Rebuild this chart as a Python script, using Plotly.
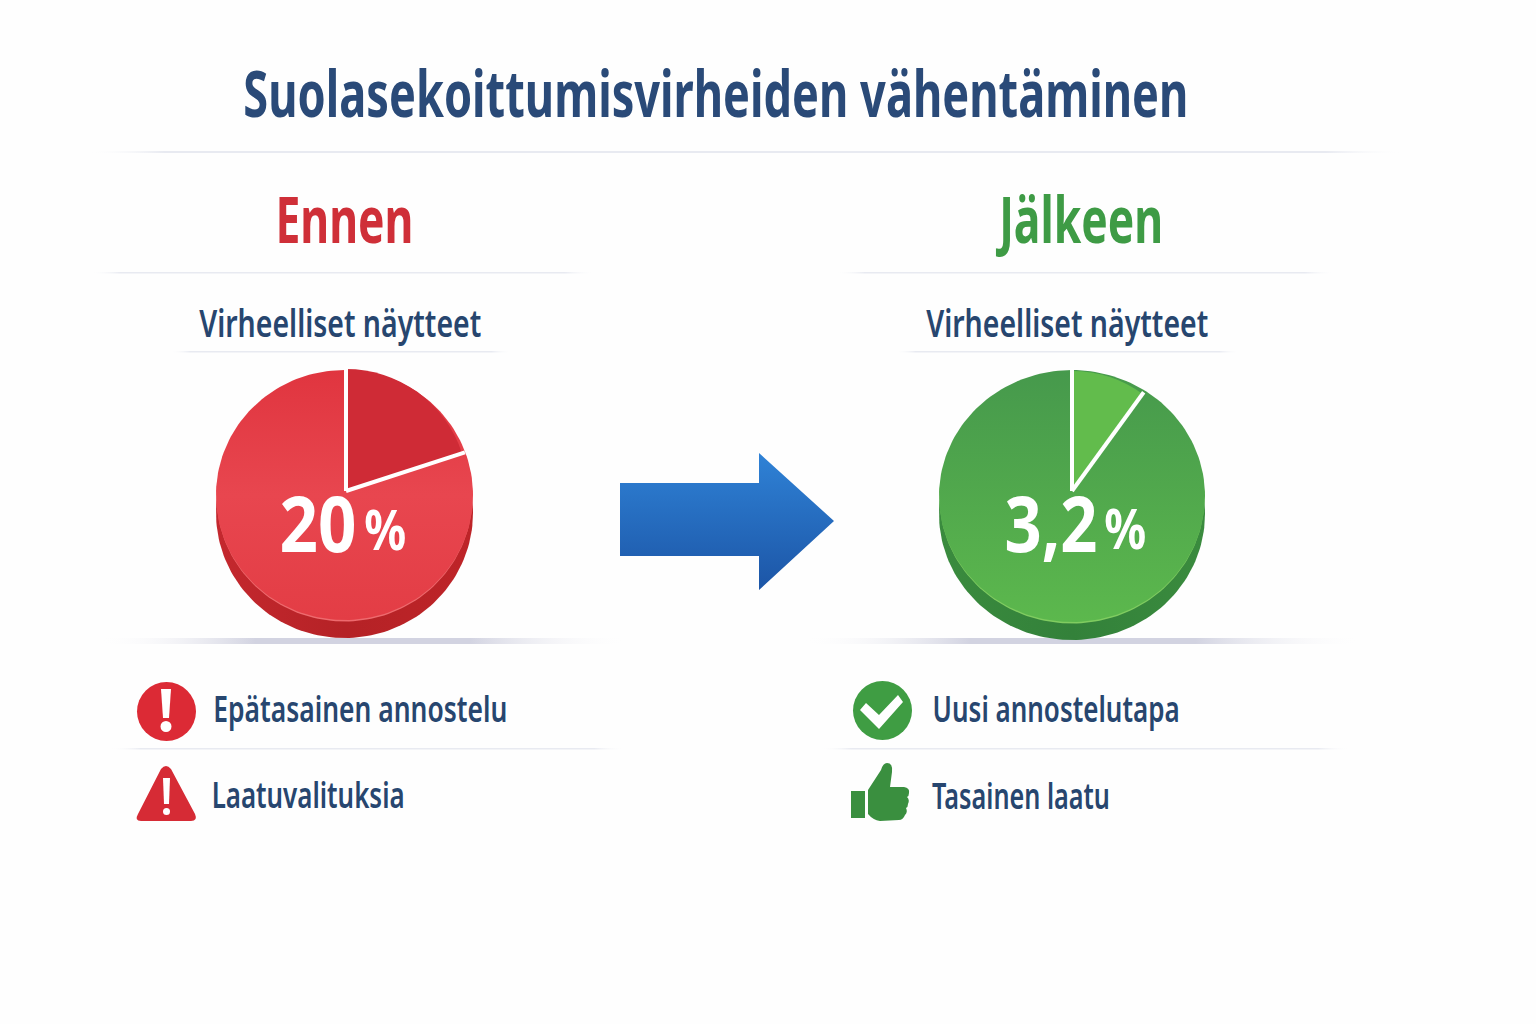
import json
import numpy as np
import plotly.graph_objects as go

W, H = 1536, 1024
FONT = "Noto Sans"
NAVY = "#27466F"

# slices as they are drawn in the picture (the green wedge looks like ~10 %, its label says 3,2)
slice_names = ["Virheelliset", "Muut"]
before_values = [20, 80]
after_values = [10, 90]

title_text = "Suolasekoittumisvirheiden vähentäminen"
before_title = "Ennen"
after_title = "Jälkeen"
pie_title = "Virheelliset näytteet"
before_label = ["20", "%"]
after_label = ["3,2", "%"]
before_notes = ["Epätasainen annostelu", "Laatuvalituksia"]
after_notes = ["Uusi annostelutapa", "Tasainen laatu"]


def px_domain(cx, cy, r):
    return dict(x=[(cx - r) / W, (cx + r) / W], y=[1 - (cy + r) / H, 1 - (cy - r) / H])


def filled(xs, ys, kind, stops):
    # polygon with a gradient fill, in pixel-like axis units
    return go.Scatter(
        x=xs, y=ys, mode="lines", fill="toself", line=dict(width=0),
        fillgradient=dict(type=kind, colorscale=stops),
        hoverinfo="skip", showlegend=False,
    )


def disc(cx, cy, rx, ry, kind, stops):
    t = np.linspace(0, 2 * np.pi, 181)
    return filled(cx + rx * np.cos(t), cy + ry * np.sin(t), kind, stops)


def rule(x0, x1, y, thick, color, fade=0.06):
    # thin line that fades out at both ends
    stops = [[0, "rgba(255,255,255,0)"], [fade, color], [1 - fade, color], [1, "rgba(255,255,255,0)"]]
    return filled([x0, x1, x1, x0, x0], [y, y, y + thick, y + thick, y], "horizontal", stops)


fig = go.Figure()

for x0, x1, y, thick in [(85, 1405, 151, 2), (90, 595, 272, 1.5), (835, 1335, 272, 1.5),
                         (170, 512, 351, 1.5), (895, 1240, 351, 1.5),
                         (110, 625, 748, 1.5), (820, 1350, 748, 1.5)]:
    fig.add_trace(rule(x0, x1, y, thick, "#E8EAF1"))
for x0, x1 in [(95, 630), (800, 1365)]:
    fig.add_trace(rule(x0, x1, 638, 6, "#D2D3E1", fade=0.3))

# red pie body
fig.add_trace(disc(344.5, 513, 128.5, 125, "horizontal", [[0, "#C4282E"], [0.5, "#B52226"], [1, "#BE2428"]]))
fig.add_trace(disc(344.5, 496.5, 128, 125, "vertical", [[0, "#EE6A6E"], [1, "#EE6A6E"]]))
fig.add_trace(disc(344.5, 495, 128.5, 125, "vertical", [[0, "#E33D45"], [0.5, "#E8464F"], [1, "#E0353F"]]))
# green pie body
fig.add_trace(disc(1072, 514, 133, 126, "horizontal", [[0, "#3A8B3E"], [0.5, "#33813A"], [1, "#3A8B3E"]]))
fig.add_trace(disc(1072, 497.5, 132.5, 126, "vertical", [[0, "#80CC60"], [1, "#80CC60"]]))
fig.add_trace(disc(1072, 496, 133, 126, "vertical", [[0, "#5CB84D"], [1, "#46994C"]]))

# arrow
fig.add_trace(filled([620, 759, 759, 834, 759, 759, 620, 620], [483, 483, 453, 521, 590, 556, 556, 483],
                     "vertical", [[0, "#1C55A6"], [1, "#2F82D6"]]))

fig.add_trace(go.Pie(labels=slice_names, values=before_values, sort=False, direction="clockwise",
                     marker=dict(colors=["#CF2B36", "rgba(228,64,74,0)"], line=dict(width=0)),
                     domain=px_domain(346, 491, 122), textinfo="none", hoverinfo="label+value", showlegend=False))
fig.add_trace(go.Pie(labels=slice_names, values=after_values, sort=False, direction="clockwise",
                     marker=dict(colors=["#62BC4C", "rgba(70,153,76,0)"], line=dict(width=0)),
                     domain=px_domain(1072, 491, 120), textinfo="none", hoverinfo="label+value", showlegend=False))


def separators(cx, cy, r, values):
    out = []
    for frac in [0, values[0] / sum(values)]:
        a = 2 * np.pi * frac
        out.append(dict(type="line", x0=cx, y0=cy, x1=cx + r * np.sin(a), y1=cy - r * np.cos(a),
                        line=dict(color="white", width=4), layer="above"))
    return out


shapes = separators(346, 491, 125, before_values) + separators(1072, 491, 122, after_values)

# icons
shapes += [
    dict(type="circle", x0=137, y0=682, x1=196, y1=741, fillcolor="#DC2A35", line_width=0),
    dict(type="path", path="M161,689 L171,689 L169,718 L163,718 Z", fillcolor="white", line_width=0),
    dict(type="circle", x0=160.5, y0=721, x1=171.5, y1=732, fillcolor="white", line_width=0),
    dict(type="path", path="M161,769 Q166,763 171,769 L195,814 Q198,821 191,821 L141,821 Q134,821 138,814 Z",
         fillcolor="#D62B35", line_width=0),
    dict(type="path", path="M163,778 L170,778 L169,804 L164,804 Z", fillcolor="white", line_width=0),
    dict(type="circle", x0=163, y0=808, x1=170, y1=815, fillcolor="white", line_width=0),
    dict(type="circle", x0=853, y0=681, x1=912, y1=740, fillcolor="#3F9D43", line_width=0),
    dict(type="path", path="M860,710 L866,703 L879,715 L898,695 L903,702 L879,729 Z", fillcolor="white", line_width=0),
    dict(type="rect", x0=851, y0=791, x1=865, y1=818, fillcolor="#3A8F3F", line_width=0),
    dict(type="path",
         path="M868,790 L881,770 Q883,763 887,763 Q893,763 892,772 L890,787 L904,787 Q910,788 909,793 "
              "Q909,796 907,797 Q910,800 908,804 Q908,807 906,808 Q908,812 905,815 Q903,820 899,820 "
              "L880,821 Q873,820 868,814 Z",
         fillcolor="#3A8F3F", line_width=0),
]

# the reference face is a condensed one, none is installed: squeeze to the measured widths in the page
text_widths = {}


def note(left, right, y, text, size, color, weight=600):
    text_widths[text] = right - left
    return dict(x=(left + right) / 2, y=y, text=text, showarrow=False, xanchor="center", yanchor="middle",
                font=dict(family=FONT, size=size, color=color, weight=weight))


annotations = [
    note(243, 1188, 92, title_text, 64, "#2A4A78", 700),
    note(275, 413, 218, before_title, 64, "#CF2F38", 700),
    note(996, 1160, 218, after_title, 64, "#3E9B45", 700),
    note(199, 481, 322, pie_title, 38, NAVY),
    note(926, 1208, 322, pie_title, 38, NAVY),
    note(279, 356, 522, before_label[0], 77, "white", 700),
    note(1004, 1097, 522, after_label[0], 77, "white", 700),
    note(213, 507, 708, before_notes[0], 36, NAVY),
    note(211, 404, 794, before_notes[1], 36, NAVY),
    note(932, 1179, 708, after_notes[0], 36, NAVY),
    note(932, 1110, 795, after_notes[1], 36, NAVY),
    note(365, 405, 528, before_label[1], 56, "white", 700),
    note(1104, 1146, 527, after_label[1], 56, "white", 700),
]

fig.update_layout(
    width=W, height=H, margin=dict(l=0, r=0, t=0, b=0),
    paper_bgcolor="#FEFEFE", plot_bgcolor="#FEFEFE",
    xaxis=dict(range=[0, W], visible=False),
    yaxis=dict(range=[H, 0], visible=False),
    shapes=shapes, annotations=annotations,
)

squeeze = """
document.body.style.margin = '0';
var widths = %s;
document.querySelectorAll('.annotation-text').forEach(function (t) {
    var w = widths[t.textContent];
    if (w) { t.setAttribute('textLength', w); t.setAttribute('lengthAdjust', 'spacingAndGlyphs'); }
});
""" % json.dumps(text_widths)

fig.write_html("out.html", config=dict(displayModeBar=False), post_script=squeeze)
